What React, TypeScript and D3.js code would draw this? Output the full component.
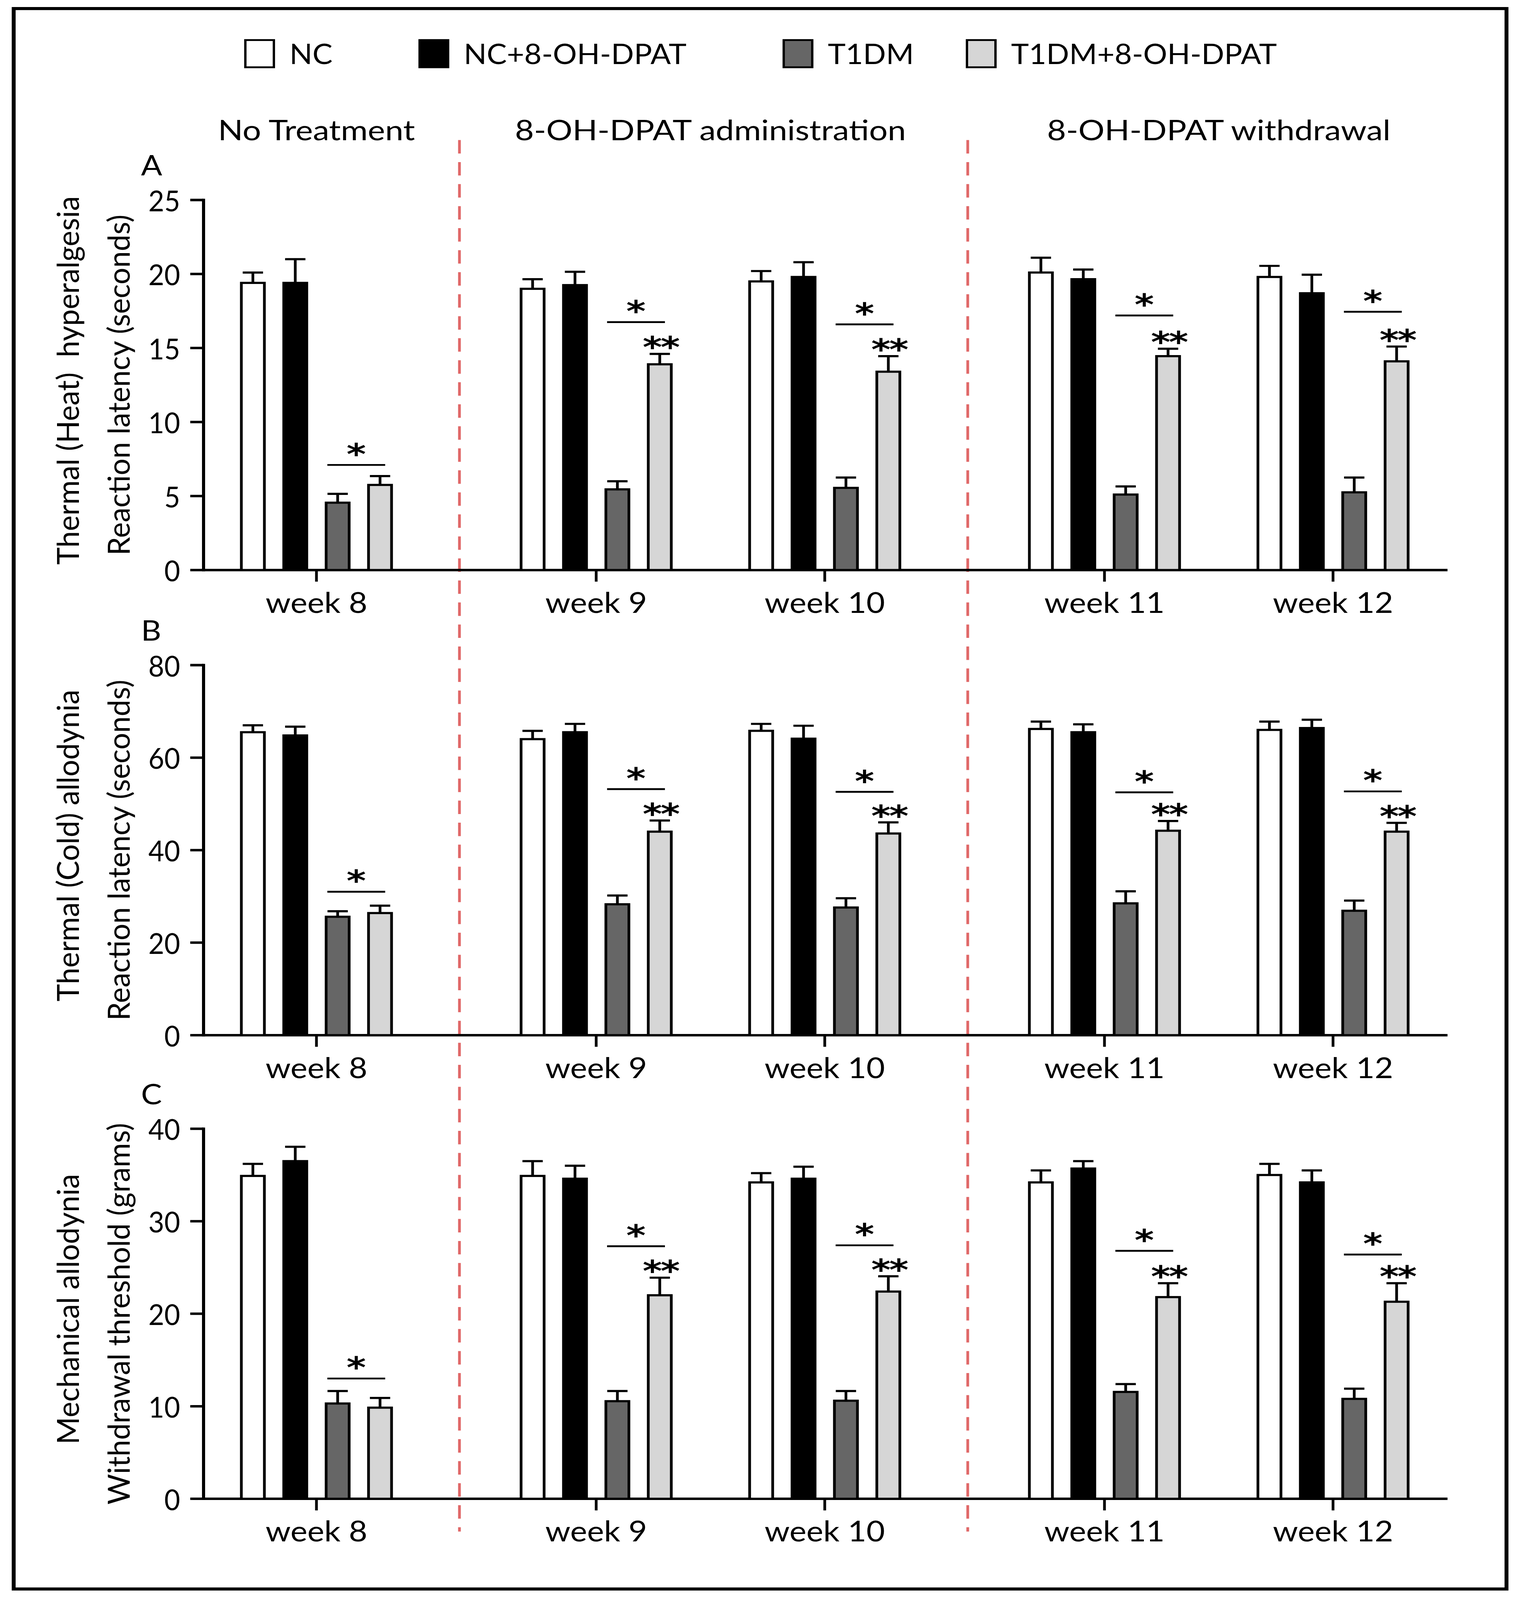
import * as d3 from "d3";

const weeks = ["week 8", "week 9", "week 10", "week 11", "week 12"];
const weekPhase = [0, 1, 1, 2, 2];
const phases = ["No Treatment", "8-OH-DPAT administration", "8-OH-DPAT withdrawal"];
const groups = ["NC", "NC+8-OH-DPAT", "T1DM", "T1DM+8-OH-DPAT"];
const groupFill = ["#ffffff", "#000000", "#666666", "#d6d6d6"];

// A: thermal (heat) hyperalgesia, seconds
const heatNC = [19.4, 19.0, 19.5, 20.1, 19.8];
const heatNCDpat = [19.4, 19.25, 19.8, 19.65, 18.7];
const heatT1DM = [4.55, 5.45, 5.55, 5.1, 5.25];
const heatT1DMDpat = [5.75, 13.9, 13.4, 14.45, 14.1];
const heatNCErr = [0.7, 0.65, 0.7, 1.0, 0.75];
const heatNCDpatErr = [1.6, 0.9, 1.0, 0.65, 1.25];
const heatT1DMErr = [0.6, 0.55, 0.7, 0.55, 1.0];
const heatT1DMDpatErr = [0.6, 0.7, 1.05, 0.5, 1.0];
const heatBracket = [7.1, 16.75, 16.6, 17.2, 17.45];

// B: thermal (cold) allodynia, seconds
const coldNC = [65.5, 64.0, 65.8, 66.2, 66.0];
const coldNCDpat = [64.8, 65.5, 64.1, 65.5, 66.4];
const coldT1DM = [25.6, 28.3, 27.6, 28.5, 26.9];
const coldT1DMDpat = [26.4, 44.0, 43.6, 44.2, 44.0];
const coldNCErr = [1.5, 1.8, 1.5, 1.6, 1.8];
const coldNCDpatErr = [1.9, 1.8, 2.8, 1.7, 1.8];
const coldT1DMErr = [1.2, 1.9, 2.0, 2.6, 2.2];
const coldT1DMDpatErr = [1.6, 2.4, 2.4, 2.1, 1.9];
const coldBracket = [31.0, 53.2, 52.6, 52.5, 52.7];

// C: mechanical allodynia, grams
const mechNC = [34.9, 34.9, 34.2, 34.2, 35.0];
const mechNCDpat = [36.5, 34.6, 34.6, 35.7, 34.2];
const mechT1DM = [10.3, 10.55, 10.6, 11.55, 10.8];
const mechT1DMDpat = [9.85, 22.0, 22.4, 21.8, 21.3];
const mechNCErr = [1.3, 1.6, 1.0, 1.3, 1.2];
const mechNCDpatErr = [1.55, 1.4, 1.3, 0.8, 1.3];
const mechT1DMErr = [1.35, 1.1, 1.05, 0.85, 1.1];
const mechT1DMDpatErr = [1.05, 1.9, 1.65, 1.5, 2.0];
const mechBracket = [13.0, 27.3, 27.4, 26.8, 26.4];

// weeks that carry the "**" mark over T1DM+8-OH-DPAT
const doubleStar = [false, true, true, true, true];

const panels = [
  {
    letter: "A",
    titles: ["Thermal (Heat)  hyperalgesia", "Reaction latency (seconds)"],
    yMax: 25,
    tickCount: 5,
    values: [heatNC, heatNCDpat, heatT1DM, heatT1DMDpat],
    errors: [heatNCErr, heatNCDpatErr, heatT1DMErr, heatT1DMDpatErr],
    bracket: heatBracket,
  },
  {
    letter: "B",
    titles: ["Thermal (Cold) allodynia", "Reaction latency (seconds)"],
    yMax: 80,
    tickCount: 4,
    values: [coldNC, coldNCDpat, coldT1DM, coldT1DMDpat],
    errors: [coldNCErr, coldNCDpatErr, coldT1DMErr, coldT1DMDpatErr],
    bracket: coldBracket,
  },
  {
    letter: "C",
    titles: ["Mechanical allodynia", "Withdrawal threshold (grams)"],
    yMax: 40,
    tickCount: 4,
    values: [mechNC, mechNCDpat, mechT1DM, mechT1DMDpat],
    errors: [mechNCErr, mechNCDpatErr, mechT1DMErr, mechT1DMDpatErr],
    bracket: mechBracket,
  },
];

const W = 3888;
const H = 5232;
const FONT = "Lato, 'Open Sans', sans-serif";
const STAR_FONT = "'DejaVu Sans', sans-serif";
const panelTops = [654, 2175, 3691];
const plotH = 1210;
const axisX = 521;
const axisEnd = 3705;
const phaseGap = 131;

const weekStep = d3.scaleLinear().domain([0, weeks.length - 1]).range([810, 810 + 4 * 585]);
const weekX = (i: number) => weekStep(i) + phaseGap * weekPhase[i];
const band = d3.scaleBand<string>().domain(groups).range([-217, 217]).paddingInner(0.392).paddingOuter(0.196);

// dashed separators sit between the last week of one phase and the first of the next
const separators = d3.range(1, weeks.length)
  .filter(i => weekPhase[i] !== weekPhase[i - 1])
  .map(i => (weekX(i - 1) + weekX(i)) / 2 + 8);

const phaseCenter = (p: number) => {
  const idx = weeks.map((_, i) => i).filter(i => weekPhase[i] === p);
  return d3.mean(idx.map(weekX)) as number;
};

const SText = ({x, y, sx = 1, sy = 1, rot = 0, size, anchor = "middle", children, family = FONT, baseline, weight, spacing}: any) => (
  <text
    transform={`translate(${x},${y}) rotate(${rot}) scale(${sx},${sy})`}
    fontFamily={family}
    fontSize={size}
    fontWeight={weight}
    letterSpacing={spacing}
    textAnchor={anchor}
    dominantBaseline={baseline}
    fill="#000"
    style={{whiteSpace: "pre"}}
  >
    {children}
  </text>
);

const Panel = ({p, top}: {p: typeof panels[number], top: number}) => {
  const y = d3.scaleLinear().domain([0, p.yMax]).range([top + plotH, top]);
  const y0 = y(0);
  const bw = band.bandwidth();
  const midY = (y(0) + y(p.yMax)) / 2;
  return (
    <g>
      {/* y titles */}
      <SText x={172} y={midY - 15} rot={-90} sx={1.24} size={78} baseline="central">{p.titles[0]}</SText>
      <SText x={302} y={midY} rot={-90} sx={1.24} size={78} baseline="central">{p.titles[1]}</SText>
      <SText x={361} y={top - 80} anchor="start" size={80} sy={1.15}>{p.letter}</SText>

      {/* y axis */}
      <line x1={axisX} x2={axisX} y1={y(p.yMax) - 4} y2={y0 + 4} stroke="#000" strokeWidth={8} />
      {y.ticks(p.tickCount).map(t => (
        <g key={t}>
          <line x1={axisX - 34} x2={axisX} y1={y(t)} y2={y(t)} stroke="#000" strokeWidth={8} />
          <SText x={axisX - 60} y={y(t)} anchor="end" size={70} sy={1.35} baseline="central">{String(t)}</SText>
        </g>
      ))}

      {/* x axis */}
      <line x1={axisX} x2={axisEnd} y1={y0} y2={y0} stroke="#000" strokeWidth={8} />

      {weeks.map((w, i) => {
        const cx = weekX(i);
        const lightX = cx + (band(groups[3]) as number);
        const darkX = cx + (band(groups[2]) as number);
        const lightTop = y(p.values[3][i] + p.errors[3][i]);
        const bx1 = darkX + bw * 0.1;
        const bx2 = lightX + bw * 0.7;
        return (
          <g key={w}>
            <line x1={cx} x2={cx} y1={y0} y2={y0 + 38} stroke="#000" strokeWidth={7} />
            <SText x={cx} y={y0 + 140} size={82} sy={1.15}>{w}</SText>
            {groups.map((g, gi) => {
              const bx = cx + (band(g) as number);
              const v = p.values[gi][i];
              const e = p.errors[gi][i];
              const mid = bx + bw / 2;
              return (
                <g key={g}>
                  <line x1={mid} x2={mid} y1={y(v)} y2={y(v + e)} stroke="#000" strokeWidth={7} />
                  <line x1={mid - 26} x2={mid + 26} y1={y(v + e)} y2={y(v + e)} stroke="#000" strokeWidth={7} />
                  <rect x={bx + 3.5} y={y(v)} width={bw - 7} height={y0 - y(v)} fill={groupFill[gi]} stroke="#000" strokeWidth={7} />
                </g>
              );
            })}
            <line x1={bx1} x2={bx2} y1={y(p.bracket[i])} y2={y(p.bracket[i])} stroke="#000" strokeWidth={6} />
            <SText x={(bx1 + bx2) / 2} y={y(p.bracket[i]) - 2} size={95} weight="bold" family={STAR_FONT}>*</SText>
            {doubleStar[i] && (
              <SText x={lightX + bw / 2 + 2} y={lightTop + 12} size={95} weight="bold" spacing={-4} family={STAR_FONT}>**</SText>
            )}
          </g>
        );
      })}
    </g>
  );
};

const legendX = [625, 1071, 2003, 2472];

export default function App() {
  return (
    <svg
      viewBox={`0 0 ${W} ${H}`}
      preserveAspectRatio="none"
      style={{position: "absolute", left: 0, top: 0, width: "100vw", height: "100vh", display: "block", background: "#fff"}}
    >
      <rect x={0} y={0} width={W} height={H} fill="#fff" />
      <rect x={35} y={28} width={3821} height={5168} fill="none" stroke="#000" strokeWidth={10} />

      {groups.map((g, gi) => (
        <g key={g}>
          <rect x={legendX[gi] + 3} y={131} width={73} height={89} fill={groupFill[gi]} stroke="#000" strokeWidth={6} />
          <SText x={legendX[gi] + 116} y={210} anchor="start" size={77} sy={1.2}>{g}</SText>
        </g>
      ))}

      {phases.map((ph, pi) => (
        <SText key={ph} x={phaseCenter(pi)} y={458} size={84} sy={1.1}>{ph}</SText>
      ))}

      {separators.map(sx => (
        <line key={sx} x1={sx} x2={sx} y1={458} y2={5008} stroke="#e06868" strokeWidth={7} strokeDasharray="44 28" />
      ))}

      {panels.map((p, i) => (
        <Panel key={p.letter} p={p} top={panelTops[i]} />
      ))}
    </svg>
  );
}
